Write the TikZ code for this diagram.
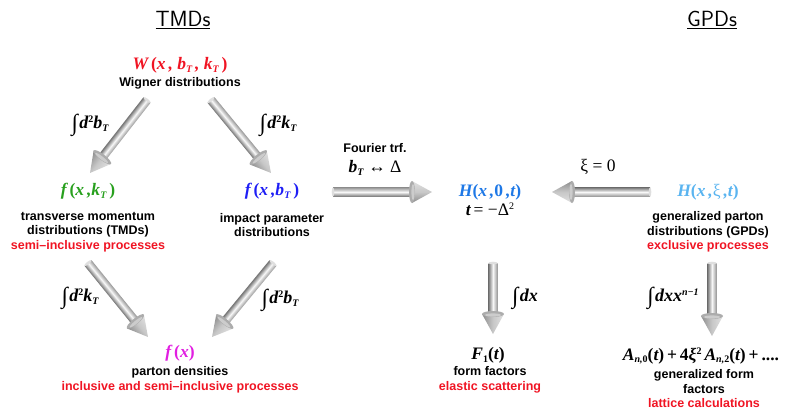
\documentclass[tikz,border=0pt]{standalone}
\usepackage{fontspec}
\setmainfont{Liberation Sans}
\newfontfamily\fm{Liberation Serif}
\usetikzlibrary{calc}
\definecolor{myred}{RGB}{240,20,35}
\definecolor{mygreen}{RGB}{40,160,30}
\definecolor{myblue}{RGB}{30,30,245}
\definecolor{hblue}{RGB}{30,120,230}
\definecolor{lblue}{RGB}{90,180,240}
\definecolor{mymag}{RGB}{225,30,225}
\definecolor{tubedark}{RGB}{150,150,150}
\definecolor{tubelight}{RGB}{248,248,248}
\definecolor{conedark}{RGB}{140,140,140}
\definecolor{conelight}{RGB}{225,225,225}
\newcommand\fml[1]{{\fm\bfseries\itshape #1}}
\newcommand\upr[1]{{\upshape #1}}
\newcommand\sbs[1]{\raisebox{-0.35ex}{\fontsize{10}{10}\selectfont #1}}
\newcommand\sps[1]{\raisebox{0.75ex}{\fontsize{10}{10}\selectfont #1}}
\newcommand\intg{\raisebox{-0.2ex}{\fontsize{23}{23}\selectfont\upshape\mdseries ∫}\hspace{1.5pt}}
\newcommand\tubearrow[2]{%
  \path let \p1=($(#2)-(#1)$), \n1={atan2(\y1,\x1)}, \n2={veclen(\x1,\y1)} in
    \pgfextra{\xdef\tAng{\n1}\xdef\tLen{\n2}};
  \begin{scope}[transform canvas={shift={(#1)},rotate=\tAng}]
    \shade[top color=tubedark, bottom color=tubedark!80!black, middle color=tubelight]
      (0pt,-4.5pt) rectangle ({\tLen*1pt-18pt},4.5pt);
    \fill[gray!25] (0pt,0pt) ellipse [x radius=1.3pt, y radius=4.5pt];
    \shade[top color=conelight, bottom color=conedark, middle color=conelight!70!conedark]
      ({\tLen*1pt-20pt},-11pt) -- ({\tLen*1pt},0pt) -- ({\tLen*1pt-20pt},11pt) -- cycle;
    \fill[gray!65] ({\tLen*1pt-20pt},0pt) ellipse [x radius=3pt, y radius=11pt];
    \fill[gray!40] ({\tLen*1pt-19pt},0pt) ellipse [x radius=1.6pt, y radius=8pt];
  \end{scope}}
\tikzset{
  lbl/.style={font=\fontsize{12.5}{14.5}\selectfont\bfseries, align=center, inner sep=0pt},
  frm/.style={font=\fontsize{17.5}{17.5}\selectfont, inner sep=0pt},
  intl/.style={font=\fontsize{18}{18}\selectfont, inner sep=0pt},
  ttl/.style={font=\sffamily\fontsize{22}{22}\selectfont, inner sep=0pt}
}
\begin{document}
\begin{tikzpicture}[x=1pt,y=-1pt]
\useasboundingbox (0,0) rectangle (786,410);

\node[ttl] (tmds) at (183,20) {\underline{TMDs}};
\node[ttl] (gpds) at (712,20) {\underline{GPDs}};

\node[frm, text=myred] (W) at (180,65) {\fml{W\,\upr{(}x\,, b\sbs{T}\,, k\sbs{T}\,\upr{)}}};
\node[lbl] (Wt) at (180,83) {Wigner distributions};

\node[frm, text=mygreen] (fk) at (88,191) {\fml{f\,\upr{(}x\,,k\sbs{T}\,\upr{)}}};
\node[lbl] (fkt) at (88,232) {transverse momentum\\distributions (TMDs)\\\textcolor{myred}{semi–inclusive processes}};

\node[frm, text=myblue] (fb) at (272,191) {\fml{f\,\upr{(}x\,,b\sbs{T}\,\upr{)}}};
\node[lbl] (fbt) at (272,225) {impact parameter\\distributions};

\node[lbl] (four) at (375,148) {Fourier trf.};
\node[frm] (bd) at (375,168) {\fml{b\sbs{T}} {\fm ↔ Δ}};

\node[frm, text=hblue] (H0) at (490,192) {\fml{H\upr{(}x\,,\upr{0}\,,t\upr{)}}};
\node[frm] (tD) at (490,209) {\fml{t}\,{\fm = −Δ\sps{2}}};

\node[frm] (xi) at (598,167) {{\fm ξ = 0}};

\node[frm, text=lblue] (Hx) at (708,192) {\fml{H\upr{(}x\,,\upr{\mdseries ξ}\,,t\upr{)}}};
\node[lbl] (Hxt) at (708,232) {generalized parton\\distributions (GPDs)\\\textcolor{myred}{exclusive processes}};

\node[frm, text=mymag] (f) at (180,353) {\fml{f\,\upr{(}x\upr{)}}};
\node[lbl] (ft) at (180,380) {parton densities\\\textcolor{myred}{inclusive and semi–inclusive processes}};

\node[frm] (F1) at (488,355) {\fml{F\sbs{\upr{1}}\upr{(}t\upr{)}}};
\node[lbl] (F1t) at (490,380) {form factors\\\textcolor{myred}{elastic scattering}};

\node[frm] (A) at (701,356) {\fml{A\sbs{n,\upr{0}}\upr{(}t\upr{)}\,\upr{+}\,\upr{4}ξ\sps{\upr{2}}\,A\sbs{n,\upr{2}}\upr{(}t\upr{)}\,\upr{+}\,\upr{....}}};
\node[lbl] (At) at (704,389) {generalized form\\factors\\\textcolor{myred}{lattice calculations}};

\node[intl] (i1) at (90,125) {\fml{\intg d\sps{\upr{2}}b\sbs{T}}};
\node[intl] (i2) at (278,125) {\fml{\intg d\sps{\upr{2}}k\sbs{T}}};
\node[intl] (i3) at (80,298) {\fml{\intg d\sps{\upr{2}}k\sbs{T}}};
\node[intl] (i4) at (280,300) {\fml{\intg d\sps{\upr{2}}b\sbs{T}}};
\node[intl] (i5) at (525,298) {\fml{\intg dx}};
\node[intl] (i6) at (673,298) {\fml{\intg dxx\sps{n−1}}};

\coordinate (a1s) at (147,100); \coordinate (a1e) at (90,173);
\coordinate (a2s) at (211,100); \coordinate (a2e) at (271,173);
\coordinate (a3s) at (333,192); \coordinate (a3e) at (432,192);
\coordinate (a4s) at (650,192); \coordinate (a4e) at (552,192);
\coordinate (a5s) at (88,263); \coordinate (a5e) at (148,337);
\coordinate (a6s) at (273,263); \coordinate (a6e) at (212,337);
\coordinate (a7s) at (493,263); \coordinate (a7e) at (493,334);
\coordinate (a8s) at (712,263); \coordinate (a8e) at (712,336);

\tubearrow{a1s}{a1e}
\tubearrow{a2s}{a2e}
\tubearrow{a3s}{a3e}
\tubearrow{a4s}{a4e}
\tubearrow{a5s}{a5e}
\tubearrow{a6s}{a6e}
\tubearrow{a7s}{a7e}
\tubearrow{a8s}{a8e}
\end{tikzpicture}
\end{document}
